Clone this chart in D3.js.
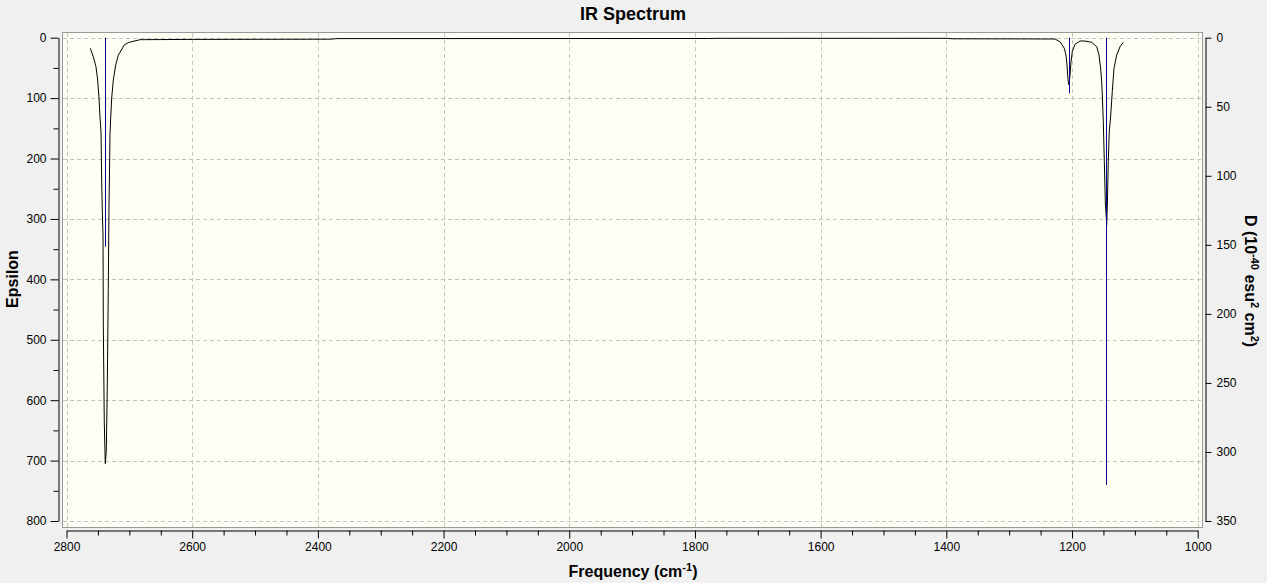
<!DOCTYPE html>
<html>
<head>
<meta charset="utf-8">
<script src="https://cdn.jsdelivr.net/npm/d3@7"></script>
<style>
  html, body { margin: 0; padding: 0; background: #f0f0f0; }
  svg { display: block; font-family: "Liberation Sans", Arial, sans-serif; }
</style>
</head>
<body>
<svg id="chart" width="1267" height="583"></svg>
<script>
// ---------- DATA ----------
const chartTitle = "IR Spectrum";
const xTickValues = [2800, 2600, 2400, 2200, 2000, 1800, 1600, 1400, 1200, 1000];
const xMinorTickValues = [2750, 2700, 2650, 2550, 2500, 2450, 2350, 2300, 2250, 2150, 2100, 2050,
  1950, 1900, 1850, 1750, 1700, 1650, 1550, 1500, 1450, 1350, 1300, 1250, 1150, 1100, 1050];
const epsTickValues = [0, 100, 200, 300, 400, 500, 600, 700, 800];
const epsMinorTickValues = [50, 150, 250, 350, 450, 550, 650, 750];
const dTickValues = [0, 50, 100, 150, 200, 250, 300, 350];

// stick spectrum (frequency in cm^-1, D in 10^-40 esu^2 cm^2)
const stickFreq = [2738.0, 1204.5, 1145.3];
const stickD = [151.3, 40.3, 323.9];

// broadened spectrum (frequency, epsilon)
const specFreq = [2762.1, 2757.4, 2753.1, 2750.4, 2748.3, 2746.7, 2745.1, 2744.0, 2743.0, 2741.9,
  2741.4, 2739.9, 2738.3, 2736.7, 2735.1, 2733.5, 2732.4, 2730.8, 2729.7, 2728.1,
  2725.5, 2721.7, 2717.6, 2708.0, 2701.7, 2696.3, 2683.0, 2600, 2380, 2370,
  1780, 1760, 1400, 1390, 1280, 1227.1, 1219.1, 1212.3, 1209.6, 1208.0,
  1206.9, 1205.9, 1204.8, 1203.2, 1201.6, 1199.5, 1195.3, 1187.3, 1179.3, 1168.7,
  1160.7, 1157.1, 1154.4, 1152.8, 1151.8, 1150.2, 1148.6, 1147.0, 1144.8, 1143.8,
  1142.3, 1140.7, 1138.4, 1135.9, 1133.2, 1128.9, 1123.6, 1118.4];
const specEps = [17.5, 31.5, 48, 70, 100, 131, 156, 238, 288, 327,
  477, 636, 705, 685, 579, 415, 282, 161, 133, 100,
  70, 45, 29, 12, 8.3, 6.6, 3.3, 2.8, 2.5, 1.5,
  1.3, 1.0, 1.0, 1.8, 2.0, 2.2, 6.6, 17.5, 28.6, 45,
  62, 73, 78, 62, 40, 23, 11, 5.5, 5.5, 7.6,
  15, 28.6, 51, 73, 95, 139, 205, 272, 310, 277,
  205, 156, 128, 89, 51, 28.6, 15, 7.6];

// ---------- LAYOUT ----------
const svg = d3.select("#chart");
const plot = { left: 62, right: 1202, top: 32, bottom: 527 };

const x = d3.scaleLinear().domain([2800, 1000]).range([66.5, 1197.7]);
const yEps = d3.scaleLinear().domain([0, 800]).range([37.7, 521]);
const yD = d3.scaleLinear().domain([0, 350]).range([37.7, 521]);

// plot background
svg.append("rect")
  .attr("x", plot.left + 0.5).attr("y", plot.top + 0.5)
  .attr("width", plot.right - plot.left).attr("height", plot.bottom - plot.top)
  .attr("fill", "#fffff5").attr("stroke", "#999").attr("stroke-width", 1);

// grid
const grid = svg.append("g").attr("stroke", "#c4c4c4").attr("stroke-dasharray", "4,3").attr("stroke-width", 1);
grid.selectAll("line.v").data(xTickValues).join("line")
  .attr("x1", d => Math.round(x(d)) + 0.5).attr("x2", d => Math.round(x(d)) + 0.5)
  .attr("y1", plot.top + 1).attr("y2", plot.bottom);
grid.selectAll("line.h").data(epsTickValues).join("line")
  .attr("y1", d => Math.round(yEps(d)) + 0.5).attr("y2", d => Math.round(yEps(d)) + 0.5)
  .attr("x1", plot.left + 1).attr("x2", plot.right);

// spectrum
const specData = specFreq.map((f, i) => [f, specEps[i]]);
svg.append("path").datum(specData)
  .attr("fill", "none").attr("stroke", "#000").attr("stroke-width", 1)
  .attr("d", d3.line().x(d => x(d[0])).y(d => yEps(d[1])));

// sticks (drawn over the spectrum)
svg.append("g").selectAll("line").data(stickFreq).join("line")
  .attr("x1", d => Math.round(x(d)) + 0.5).attr("x2", d => Math.round(x(d)) + 0.5)
  .attr("y1", yD(0)).attr("y2", (d, i) => yD(stickD[i]))
  .attr("stroke", "#00008b").attr("stroke-width", 1);

// ---------- AXES ----------
const tickFont = g => g.selectAll("text").attr("font-size", 12).attr("fill", "#000")
  .attr("font-family", "'Liberation Sans', Arial, sans-serif");

// bottom
const gx = svg.append("g").attr("transform", "translate(0,530.5)");
gx.call(d3.axisBottom(x).tickValues(xTickValues).tickFormat(d3.format("d")).tickSize(8).tickSizeOuter(0).tickPadding(4));
gx.append("g").call(d3.axisBottom(x).tickValues(xMinorTickValues).tickFormat("").tickSize(5).tickSizeOuter(0))
  .select(".domain").remove();
gx.call(tickFont);

// left
const gy = svg.append("g").attr("transform", "translate(58.5,0)");
gy.call(d3.axisLeft(yEps).tickValues(epsTickValues).tickFormat(d3.format("d")).tickSize(8).tickSizeOuter(0).tickPadding(4));
gy.append("g").call(d3.axisLeft(yEps).tickValues(epsMinorTickValues).tickFormat("").tickSize(5).tickSizeOuter(0))
  .select(".domain").remove();
gy.call(tickFont);

// right
const gr = svg.append("g").attr("transform", "translate(1205.5,0)");
gr.call(d3.axisRight(yD).tickValues(dTickValues).tickFormat(d3.format("d")).tickSize(6).tickSizeOuter(0).tickPadding(5));
gr.call(tickFont);

svg.selectAll(".domain, .tick line").attr("stroke", "#000");

// ---------- TITLES ----------
svg.append("text").attr("x", 633).attr("y", 20).attr("text-anchor", "middle")
  .attr("font-size", 18).attr("font-weight", "bold").text(chartTitle);

const xl = svg.append("text").attr("x", 633).attr("y", 577).attr("text-anchor", "middle")
  .attr("font-size", 16).attr("font-weight", "bold");
xl.append("tspan").text("Frequency (cm");
xl.append("tspan").attr("font-size", 11).attr("dy", -6).text("-1");
xl.append("tspan").attr("dy", 6).text(")");

svg.append("text").attr("transform", "translate(18,279) rotate(-90)").attr("text-anchor", "middle")
  .attr("font-size", 16).attr("font-weight", "bold").text("Epsilon");

const rl = svg.append("text").attr("transform", "translate(1245,281) rotate(90)").attr("text-anchor", "middle")
  .attr("font-size", 16).attr("font-weight", "bold");
rl.append("tspan").text("D (10");
rl.append("tspan").attr("font-size", 11).attr("dy", -6).text("-40");
rl.append("tspan").attr("dy", 6).text(" esu");
rl.append("tspan").attr("font-size", 11).attr("dy", -6).text("2");
rl.append("tspan").attr("dy", 6).text(" cm");
rl.append("tspan").attr("font-size", 11).attr("dy", -6).text("2");
rl.append("tspan").attr("dy", 6).text(")");
</script>
</body>
</html>
